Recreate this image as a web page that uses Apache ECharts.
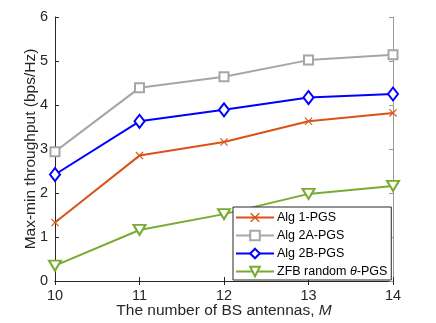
<!DOCTYPE html>
<html><head><meta charset="utf-8">
<script src="https://cdn.jsdelivr.net/npm/echarts@6/dist/echarts.min.js"></script>
<style>html,body{margin:0;padding:0;background:#fff}#c{width:436px;height:323px}</style>
</head><body><div id="c"></div>
<script>
const antennas = [10, 11, 12, 13, 14];
const alg1 = [1.33, 2.85, 3.16, 3.63, 3.82];
const alg2A = [2.94, 4.39, 4.64, 5.02, 5.14];
const alg2B = [2.42, 3.63, 3.89, 4.17, 4.25];
const zfb = [0.35, 1.16, 1.52, 1.98, 2.16];
const names = ['Alg 1-PGS', 'Alg 2A-PGS', 'Alg 2B-PGS', 'ZFB random θ-PGS'];
const xTicks = [10, 11, 12, 13, 14];
const yTicks = [0, 1, 2, 3, 4, 5, 6];

const pair = arr => antennas.map((x, i) => [x, arr[i]]);
const FONT = '"Liberation Sans", Arial, Helvetica, sans-serif';
const AX = '#262626';
const crossPath = 'path://M0,1L1,0L5,4L9,0L10,1L6,5L10,9L9,10L5,6L1,10L0,9L4,5Z';

const chart = echarts.init(document.getElementById('c'), null, {renderer: 'canvas'});
const axisCommon = (col) => ({
  axisLine: {show: true, lineStyle: {color: col, width: 1}},
  axisTick: {show: true, inside: true, length: 4, lineStyle: {color: col}},
  splitLine: {show: false},
  nameMoveOverlap: false
});
chart.setOption({
  animation: false,
  backgroundColor: '#fff',
  grid: {left: 55, right: 43, top: 17, bottom: 42, containLabel: false, outerBoundsMode: 'none'},
  xAxis: [
    Object.assign({type: 'value', min: 10, max: 14, interval: 1, position: 'bottom',
      axisLabel: {color: AX, fontSize: 14.5, fontFamily: FONT, margin: 7},
      name: '{a|The number of BS antennas, }{b|M}', nameLocation: 'middle', nameGap: 22,
      nameTextStyle: {rich: {a: {fontSize: 15.5, color: AX, fontFamily: FONT}, b: {fontSize: 15.5, color: AX, fontFamily: FONT, fontStyle: 'italic'}}}
    }, axisCommon(AX)),
    Object.assign({type: 'value', min: 10, max: 14, interval: 1, position: 'top', axisLabel: {show: false}}, axisCommon(AX))
  ],
  yAxis: [
    Object.assign({type: 'value', min: 0, max: 6, interval: 1, position: 'left',
      axisLabel: {color: AX, fontSize: 14.5, fontFamily: FONT, margin: 7},
      name: 'Max-min throughput (bps/Hz)', nameLocation: 'middle', nameGap: 16,
      nameTextStyle: {fontSize: 15.5, color: AX, fontFamily: FONT}
    }, axisCommon(AX)),
    Object.assign({type: 'value', min: 0, max: 6, interval: 1, position: 'right', axisLabel: {show: false}}, axisCommon('#9a9a9a'))
  ],
  legend: {
    left: 233, top: 207, orient: 'vertical',
    backgroundColor: '#fff', borderColor: AX, borderWidth: 1, borderRadius: 0,
    padding: [4, 4, 2, 2], itemGap: 5, itemWidth: 38, itemHeight: 12,
    formatter: function (n) {
      if (n.indexOf('θ') >= 0) return '{a|ZFB random }{b|θ}{a|-PGS}';
      return '{a|' + n + '}';
    },
    textStyle: {fontSize: 12.5, color: '#000', fontFamily: FONT, padding: [0, 0, 0, -2],
      rich: {a: {fontSize: 12.5, color: '#000', fontFamily: FONT}, b: {fontSize: 12.5, color: '#000', fontFamily: FONT, fontStyle: 'italic'}}},
    data: names
  },
  series: [
    {name: names[0], type: 'line', data: pair(alg1), color: '#D95319',
      lineStyle: {width: 2, color: '#D95319'}, symbol: crossPath, symbolSize: 8,
      itemStyle: {color: '#D95319'}},
    {name: names[1], type: 'line', data: pair(alg2A), color: '#A6A6A6',
      lineStyle: {width: 2, color: '#A6A6A6'}, symbol: 'emptyRect', symbolSize: 9,
      itemStyle: {color: '#A6A6A6', borderWidth: 2}},
    {name: names[2], type: 'line', data: pair(alg2B), color: '#0000FF',
      lineStyle: {width: 2, color: '#0000FF'}, symbol: 'emptyDiamond', symbolSize: [10, 13],
      itemStyle: {color: '#0000FF', borderWidth: 2}},
    {name: names[3], type: 'line', data: pair(zfb), color: '#77AC30',
      lineStyle: {width: 2, color: '#77AC30'}, symbol: 'emptyTriangle', symbolRotate: 180, symbolSize: [12, 10],
      itemStyle: {color: '#77AC30', borderWidth: 2}}
  ]
});
</script></body></html>
